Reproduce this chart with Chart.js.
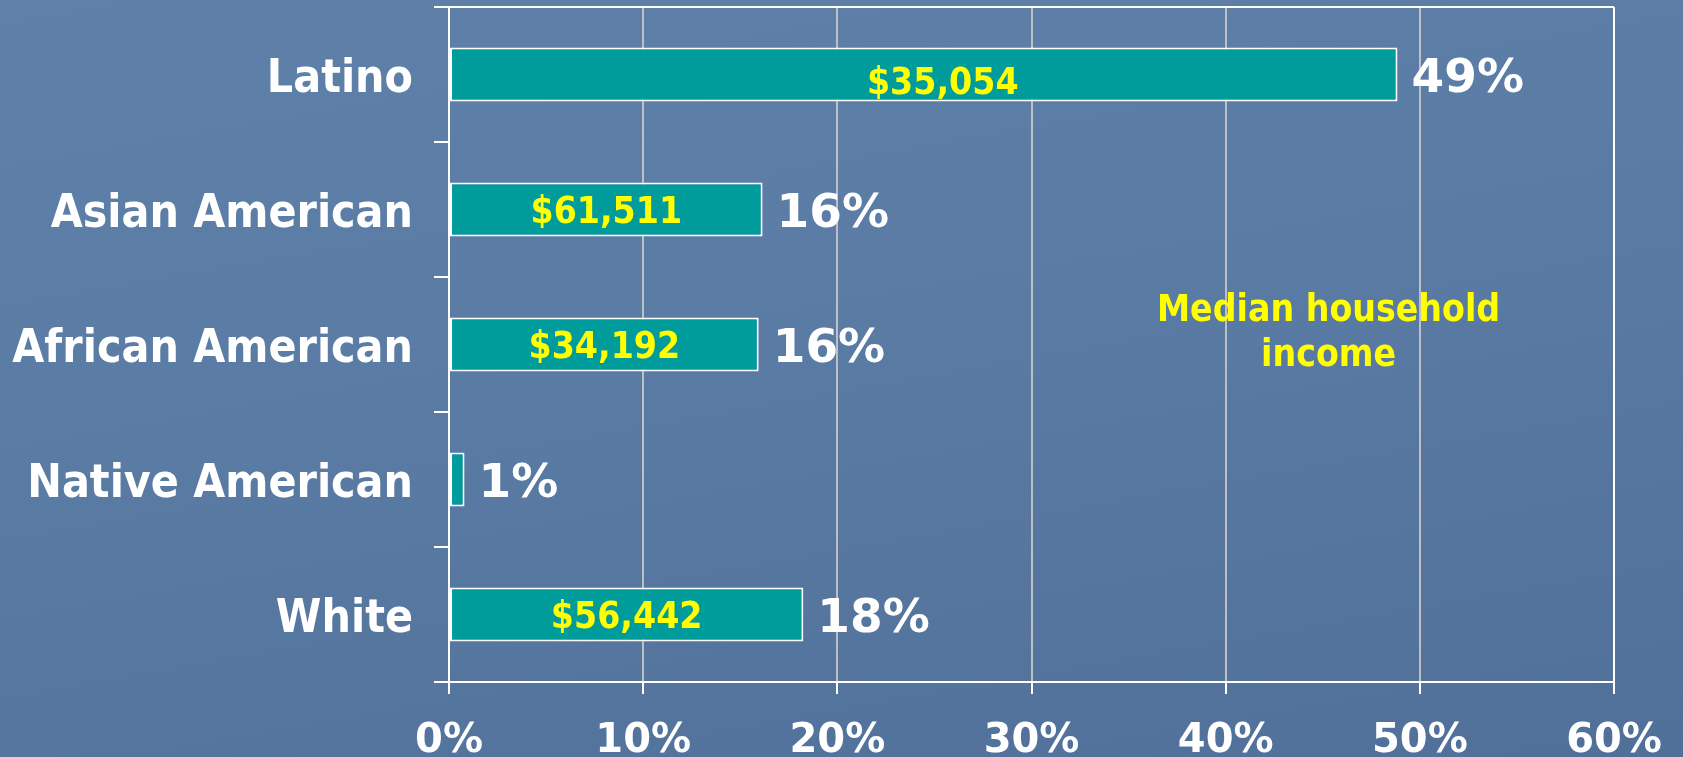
<!DOCTYPE html>
<html>
<head>
<meta charset="utf-8">
<script src="https://cdn.jsdelivr.net/npm/chart.js@4"></script>
<style>
  html, body { margin: 0; padding: 0; }
  body {
    width: 1683px; height: 757px; overflow: hidden;
    background: linear-gradient(170deg, #5f80a8 0%, #5a7ba3 45%, #50709a 100%);
  }
  #myChart { display: block; }
</style>
</head>
<body>
<canvas id="myChart" width="1683" height="757"></canvas>
<script>
const categories = ["Latino", "Asian American", "African American", "Native American", "White"];
const shares = [48.85, 16.15, 15.95, 0.8, 18.25];
const shareLabels = ["49%", "16%", "16%", "1%", "18%"];
const incomes = ["$35,054", "$61,511", "$34,192", "", "$56,442"];
const xTicks = [0, 10, 20, 30, 40, 50, 60];
const noteLines = ["Median household", "income"];

const labelsPlugin = {
    id: "barLabels",
    afterDatasetsDraw(chart) {
        const ctx = chart.ctx;
        const area = chart.chartArea;
        const xs = chart.scales.x;
        const bars = chart.getDatasetMeta(0).data;

        ctx.save();
        // top frame line, runs out over the tick marks like the y ticks
        ctx.strokeStyle = "#ffffff";
        ctx.lineWidth = 2;
        ctx.beginPath();
        ctx.moveTo(area.left - 15, area.top);
        ctx.lineTo(area.right, area.top);
        ctx.stroke();

        ctx.textBaseline = "alphabetic";
        bars.forEach((bar, i) => {
            if (incomes[i]) {
                // the Latino text box sits a bit right and low in the original
                const dx = i === 0 ? 19 : 0;
                const dy = i === 0 ? 6 : 0;
                ctx.fillStyle = "#ffff00";
                ctx.font = "bold 37px 'DejaVu Sans Condensed', 'DejaVu Sans'";
                ctx.textAlign = "center";
                ctx.fillText(incomes[i], (bar.base + bar.x) / 2 + dx, bar.y + 13.5 + dy);
            }
            ctx.fillStyle = "#ffffff";
            ctx.font = "bold 47px 'DejaVu Sans'";
            ctx.textAlign = "left";
            ctx.fillText(shareLabels[i], bar.x + 14, bar.y + 17);
        });

        ctx.fillStyle = "#ffff00";
        ctx.font = "bold 37px 'DejaVu Sans Condensed', 'DejaVu Sans'";
        ctx.textAlign = "center";
        const nx = xs.getPixelForValue(45.3);
        ctx.fillText(noteLines[0], nx, area.top + 314);
        ctx.fillText(noteLines[1], nx, area.top + 359);
        ctx.restore();
    }
};

const ctx = document.getElementById("myChart");

new Chart(ctx, {
    type: "bar",
    data: {
        labels: categories,
        datasets: [
            {
                label: "Share",
                data: shares,
                backgroundColor: "rgb(0, 155, 155)",
                borderColor: "#ffffff",
                borderWidth: 2,
                borderSkipped: false,
                barPercentage: 0.4,
                categoryPercentage: 1.0,
            },
        ],
    },
    options: {
        indexAxis: "y",
        responsive: false,
        animation: false,
        layout: {
            padding: { top: 7, right: 69, left: 0, bottom: 0 },
        },
        plugins: {
            legend: { display: false },
            tooltip: { enabled: false },
        },
        scales: {
            x: {
                min: 0,
                max: 60,
                afterBuildTicks: (scale) => {
                    scale.ticks = xTicks.map((v) => ({ value: v }));
                },
                afterFit: (scale) => {
                    scale.height = 75;
                    scale.paddingLeft = 0;
                    scale.paddingRight = 0;
                },
                border: { color: "#ffffff", width: 2 },
                grid: {
                    color: (c) => (c.tick && (c.tick.value === 0 || c.tick.value === 60) ? "#ffffff" : "rgba(200, 200, 200, 0.9)"),
                    tickColor: "#ffffff",
                    lineWidth: 2,
                    tickLength: 12,
                },
                ticks: {
                    color: "#ffffff",
                    padding: 24,
                    maxRotation: 0,
                    font: { family: "'DejaVu Sans'", size: 40, weight: "bold" },
                    callback: (v) => v + "%",
                },
            },
            y: {
                afterFit: (scale) => {
                    scale.width = 449;
                    scale.paddingTop = 0;
                    scale.paddingBottom = 0;
                },
                border: { color: "#ffffff", width: 2 },
                grid: {
                    offset: true,
                    drawOnChartArea: false,
                    color: "#ffffff",
                    tickColor: "#ffffff",
                    lineWidth: 2,
                    tickLength: 15,
                },
                ticks: {
                    color: "#ffffff",
                    padding: 21,
                    labelOffset: 6,
                    font: { family: "'DejaVu Sans Condensed', 'DejaVu Sans'", size: 46, weight: "bold" },
                },
            },
        },
    },
    plugins: [labelsPlugin],
});
</script>
</body>
</html>
